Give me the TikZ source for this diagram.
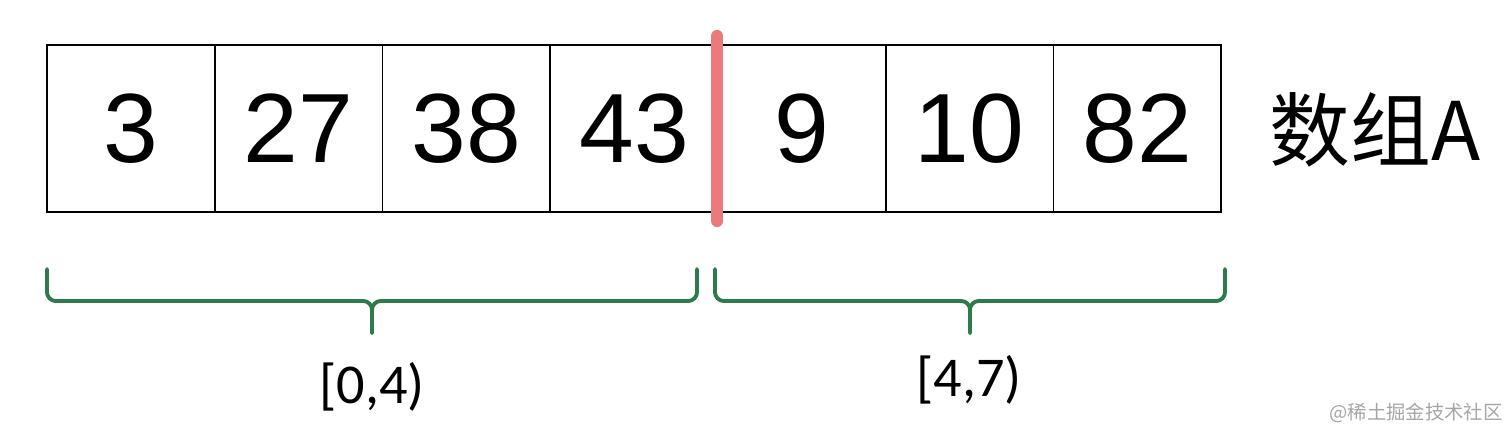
\documentclass[tikz,border=0pt]{standalone}
\usepackage{fontspec}
\setmainfont{Liberation Sans}
\newfontfamily\cjkfont{Noto Sans CJK SC}
\newfontfamily\rangefont{Carlito}
\definecolor{bargreen}{RGB}{46,122,74}
\definecolor{cutred}{RGB}{236,122,122}

\begin{document}
\begin{tikzpicture}[x=0.02cm,y=-0.02cm,
  cell/.style={draw,line width=1.1pt,minimum width=3.355cm,minimum height=3.34cm,
    inner sep=0pt,font=\fontsize{56}{60}\selectfont},
  bracepath/.style={draw=bargreen,line width=2.2pt,rounded corners=5pt,line cap=round},
  rangelabel/.style={font=\rangefont\fontsize{32}{36}\selectfont}]
\useasboundingbox (0,0) rectangle (1512,438);
% the array
\foreach \v [count=\i] in {3,27,38,43,9,10,82}
  \node[cell] (c\i) at (47+167.75*\i-83.875,128.5) {\v};
\node[font=\cjkfont\fontsize{46}{50}\selectfont] (name) at (1375,130) {数组A};
% split point
\draw[cutred,line width=7pt,line cap=round]
  ([xshift=-1pt,yshift=0.16cm]c4.north east) -- ([xshift=-1pt,yshift=-0.16cm]c4.south east);
% braces
\draw[bracepath] (47,269) -- (47,301) -- (372,301) -- (372,333);
\draw[bracepath] (697,269) -- (697,301) -- (372,301) -- (372,333);
\draw[bracepath] (715,269) -- (715,301) -- (970,301) -- (970,333);
\draw[bracepath] (1225,269) -- (1225,301) -- (970,301) -- (970,333);
\node[rangelabel] (lo) at (372,387) {[0,4)};
\node[rangelabel] (hi) at (969,380) {[4,7)};
\node[font=\cjkfont\fontsize{11}{12}\selectfont,text=gray!70] (mark) at (1416,413) {@稀土掘金技术社区};
\end{tikzpicture}
\end{document}
